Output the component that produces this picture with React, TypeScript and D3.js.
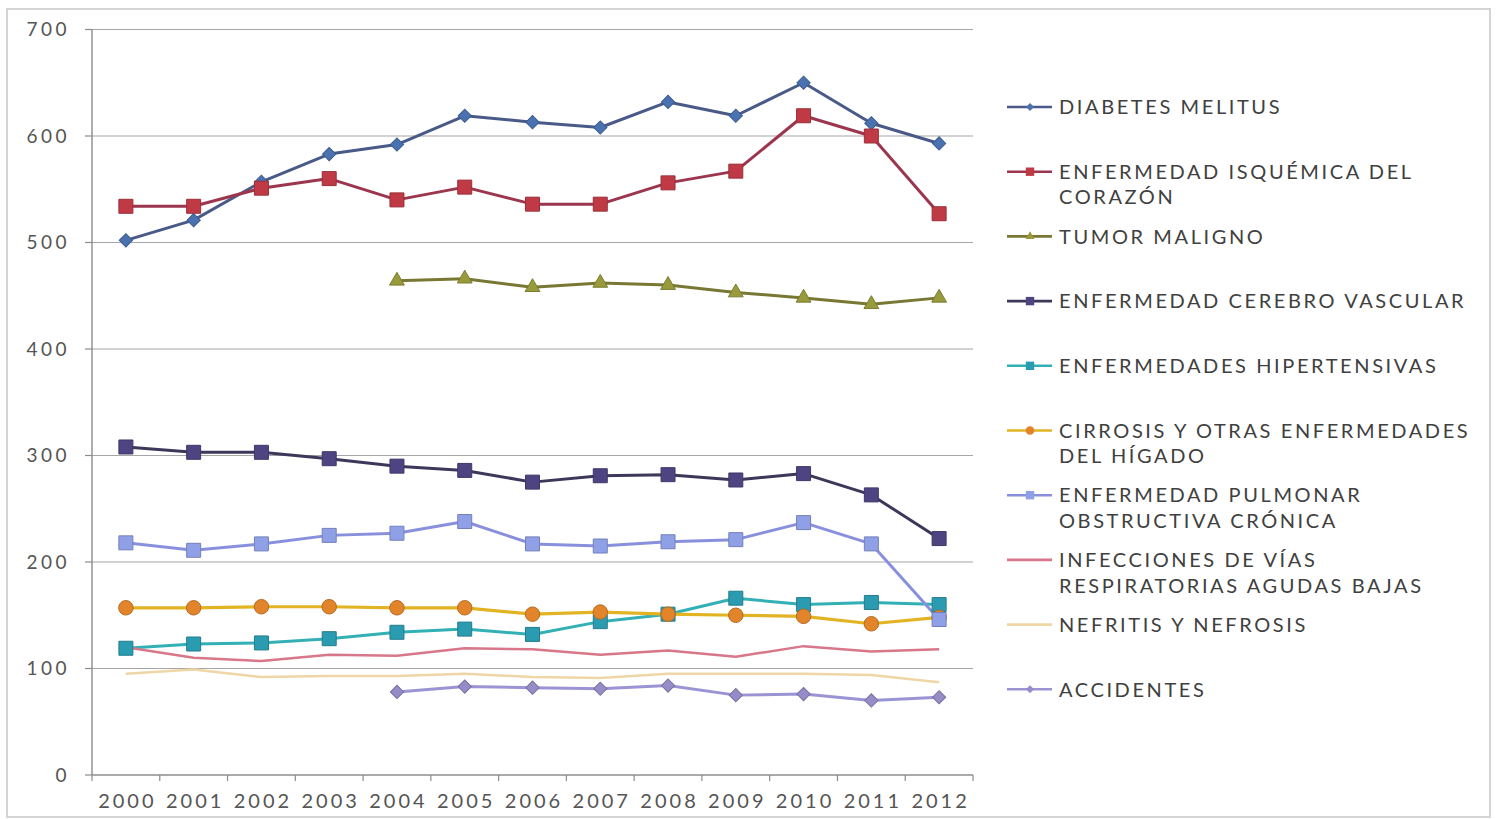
import React from "react";
import * as d3 from "d3";

// Years on the horizontal axis
const years = ["2000", "2001", "2002", "2003", "2004", "2005", "2006", "2007", "2008", "2009", "2010", "2011", "2012"];
const yTicks = [0, 100, 200, 300, 400, 500, 600, 700];

// Mortality series (null = no data for that year)
const diabetes = [502, 521, 557, 583, 592, 619, 613, 608, 632, 619, 650, 612, 593];
const isquemica = [534, 534, 551, 560, 540, 552, 536, 536, 556, 567, 619, 600, 527];
const tumor = [null, null, null, null, 464, 466, 458, 462, 460, 453, 448, 442, 448];
const cerebro = [308, 303, 303, 297, 290, 286, 275, 281, 282, 277, 283, 263, 222];
const hipertensivas = [119, 123, 124, 128, 134, 137, 132, 144, 151, 166, 160, 162, 160];
const cirrosis = [157, 157, 158, 158, 157, 157, 151, 153, 151, 150, 149, 142, 148];
const epoc = [218, 211, 217, 225, 227, 238, 217, 215, 219, 221, 237, 217, 146];
const infecciones = [120, 110, 107, 113, 112, 119, 118, 113, 117, 111, 121, 116, 118];
const nefritis = [95, 99, 92, 93, 93, 95, 92, 91, 95, 95, 95, 94, 87];
const accidentes = [null, null, null, null, 78, 83, 82, 81, 84, 75, 76, 70, 73];

type Marker = "diamond" | "square" | "triangle" | "circle" | "none";

interface Series {
  label: string[];
  values: (number | null)[];
  line: string;
  fill: string;
  marker: Marker;
  width: number;
}

const series: Series[] = [
  { label: ["DIABETES MELITUS"], values: diabetes, line: "#495a88", fill: "#4a72b0", marker: "diamond", width: 3 },
  { label: ["ENFERMEDAD ISQUÉMICA DEL", "CORAZÓN"], values: isquemica, line: "#9c364e", fill: "#c03a46", marker: "square", width: 3 },
  { label: ["TUMOR MALIGNO"], values: tumor, line: "#787834", fill: "#999a3c", marker: "triangle", width: 3 },
  { label: ["ENFERMEDAD CEREBRO VASCULAR"], values: cerebro, line: "#3d385a", fill: "#4f4482", marker: "square", width: 3 },
  { label: ["ENFERMEDADES HIPERTENSIVAS"], values: hipertensivas, line: "#33b0b5", fill: "#2a9bb0", marker: "square", width: 3 },
  { label: ["CIRROSIS Y OTRAS ENFERMEDADES", "DEL HÍGADO"], values: cirrosis, line: "#e2b424", fill: "#e2842a", marker: "circle", width: 3.2 },
  { label: ["ENFERMEDAD PULMONAR", "OBSTRUCTIVA CRÓNICA"], values: epoc, line: "#8890de", fill: "#8fa0e6", marker: "square", width: 3 },
  { label: ["INFECCIONES DE VÍAS", "RESPIRATORIAS AGUDAS BAJAS"], values: infecciones, line: "#d77789", fill: "#d77789", marker: "none", width: 2.5 },
  { label: ["NEFRITIS Y NEFROSIS"], values: nefritis, line: "#efd6a6", fill: "#efd6a6", marker: "none", width: 2.5 },
  { label: ["ACCIDENTES"], values: accidentes, line: "#9b94d4", fill: "#958cc8", marker: "diamond", width: 3 },
];

const W = 1496;
const H = 819;
const plot = { left: 92, right: 973, top: 29.5, bottom: 775 };

const x = d3.scaleBand<string>().domain(years).range([plot.left, plot.right]).padding(0);
const y = d3.scaleLinear().domain([0, 700]).range([plot.bottom, plot.top]);
const cx = (yr: string) => (x(yr) ?? 0) + x.bandwidth() / 2;

const symbolPath = (m: Marker, scale: number) => {
  switch (m) {
    case "diamond":
      return d3.symbol(d3.symbolSquare, 88 * scale * scale)() ?? "";
    case "square":
      return d3.symbol(d3.symbolSquare, 196 * scale * scale)() ?? "";
    case "triangle":
      return d3.symbol(d3.symbolTriangle, 95 * scale * scale)() ?? "";
    case "circle":
      return d3.symbol(d3.symbolCircle, 165 * scale * scale)() ?? "";
    default:
      return "";
  }
};

const lineGen = d3
  .line<(number | null)>()
  .defined((d) => d !== null)
  .x((_, i) => cx(years[i]))
  .y((d) => y(d as number));

const FONT = "Lato, 'Open Sans', sans-serif";

export default function App() {
  const legendX = 1007;
  const legendTop = 107;
  const legendStep = 64.7;
  return (
    <svg width={W} height={H} style={{ position: "absolute", left: 0, top: 0, background: "#fff" }}>
      {/* outer frame */}
      <rect x={7} y={9} width={1483} height={808} fill="#fff" stroke="#d4d4d4" strokeWidth={2} />

      {/* gridlines and y ticks */}
      {yTicks.map((t) => (
        <g key={t}>
          {t > 0 && (
            <line x1={plot.left} x2={plot.right} y1={y(t)} y2={y(t)} stroke="#a6a6a6" strokeWidth={1.2} />
          )}
          <line x1={plot.left - 7} x2={plot.left} y1={y(t)} y2={y(t)} stroke="#8c8c8c" strokeWidth={1.2} />
          <text
            x={70}
            y={y(t)}
            dy="0.36em"
            textAnchor="end"
            fontFamily={FONT}
            fontSize={19}
            letterSpacing={3.5}
            fill="#555"
          >
            {t}
          </text>
        </g>
      ))}

      {/* axes */}
      <line x1={plot.left} x2={plot.left} y1={plot.top} y2={plot.bottom} stroke="#8c8c8c" strokeWidth={1.4} />
      <line x1={plot.left} x2={plot.right} y1={plot.bottom} y2={plot.bottom} stroke="#8c8c8c" strokeWidth={1.4} />
      {years.map((yr) => (
        <line
          key={"t" + yr}
          x1={(x(yr) ?? 0) + x.bandwidth()}
          x2={(x(yr) ?? 0) + x.bandwidth()}
          y1={plot.bottom}
          y2={plot.bottom + 6}
          stroke="#8c8c8c"
          strokeWidth={1.2}
        />
      ))}
      <line x1={plot.left} x2={plot.left} y1={plot.bottom} y2={plot.bottom + 6} stroke="#8c8c8c" strokeWidth={1.2} />
      {years.map((yr) => (
        <text
          key={"l" + yr}
          x={cx(yr) + 1.5}
          y={801}
          dy="0.36em"
          textAnchor="middle"
          fontFamily={FONT}
          fontSize={20}
          letterSpacing={3}
          fill="#555"
        >
          {yr}
        </text>
      ))}

      {/* series lines */}
      {series.map((s, i) => (
        <path
          key={"p" + i}
          d={lineGen(s.values) ?? ""}
          fill="none"
          stroke={s.line}
          strokeWidth={s.width}
          strokeLinejoin="round"
        />
      ))}

      {/* series markers */}
      {series.map((s, i) =>
        s.marker === "none"
          ? null
          : s.values.map((v, j) =>
              v === null ? null : (
                <path
                  key={"m" + i + "-" + j}
                  d={symbolPath(s.marker, 1)}
                  transform={`translate(${cx(years[j])},${y(v)})${s.marker === "diamond" ? " rotate(45)" : ""}`}
                  fill={s.fill}
                  stroke={d3.color(s.fill)?.darker(0.6).formatHex() ?? s.fill}
                  strokeWidth={1}
                />
              )
            )
      )}

      {/* legend */}
      {series.map((s, i) => {
        const ly = legendTop + i * legendStep;
        return (
          <g key={"lg" + i}>
            <line x1={legendX} x2={legendX + 45} y1={ly} y2={ly} stroke={s.line} strokeWidth={2.6} />
            {s.marker !== "none" && (
              <path
                d={symbolPath(s.marker, 0.6)}
                transform={`translate(${legendX + 23},${ly})${s.marker === "diamond" ? " rotate(45)" : ""}`}
                fill={s.fill}
              />
            )}
            {s.label.map((t, k) => (
              <text
                key={k}
                x={1059}
                y={ly + k * 25.5}
                dy="0.36em"
                fontFamily={FONT}
                fontSize={20}
                letterSpacing={2.6}
                fill="#404040"
              >
                {t}
              </text>
            ))}
          </g>
        );
      })}
    </svg>
  );
}
